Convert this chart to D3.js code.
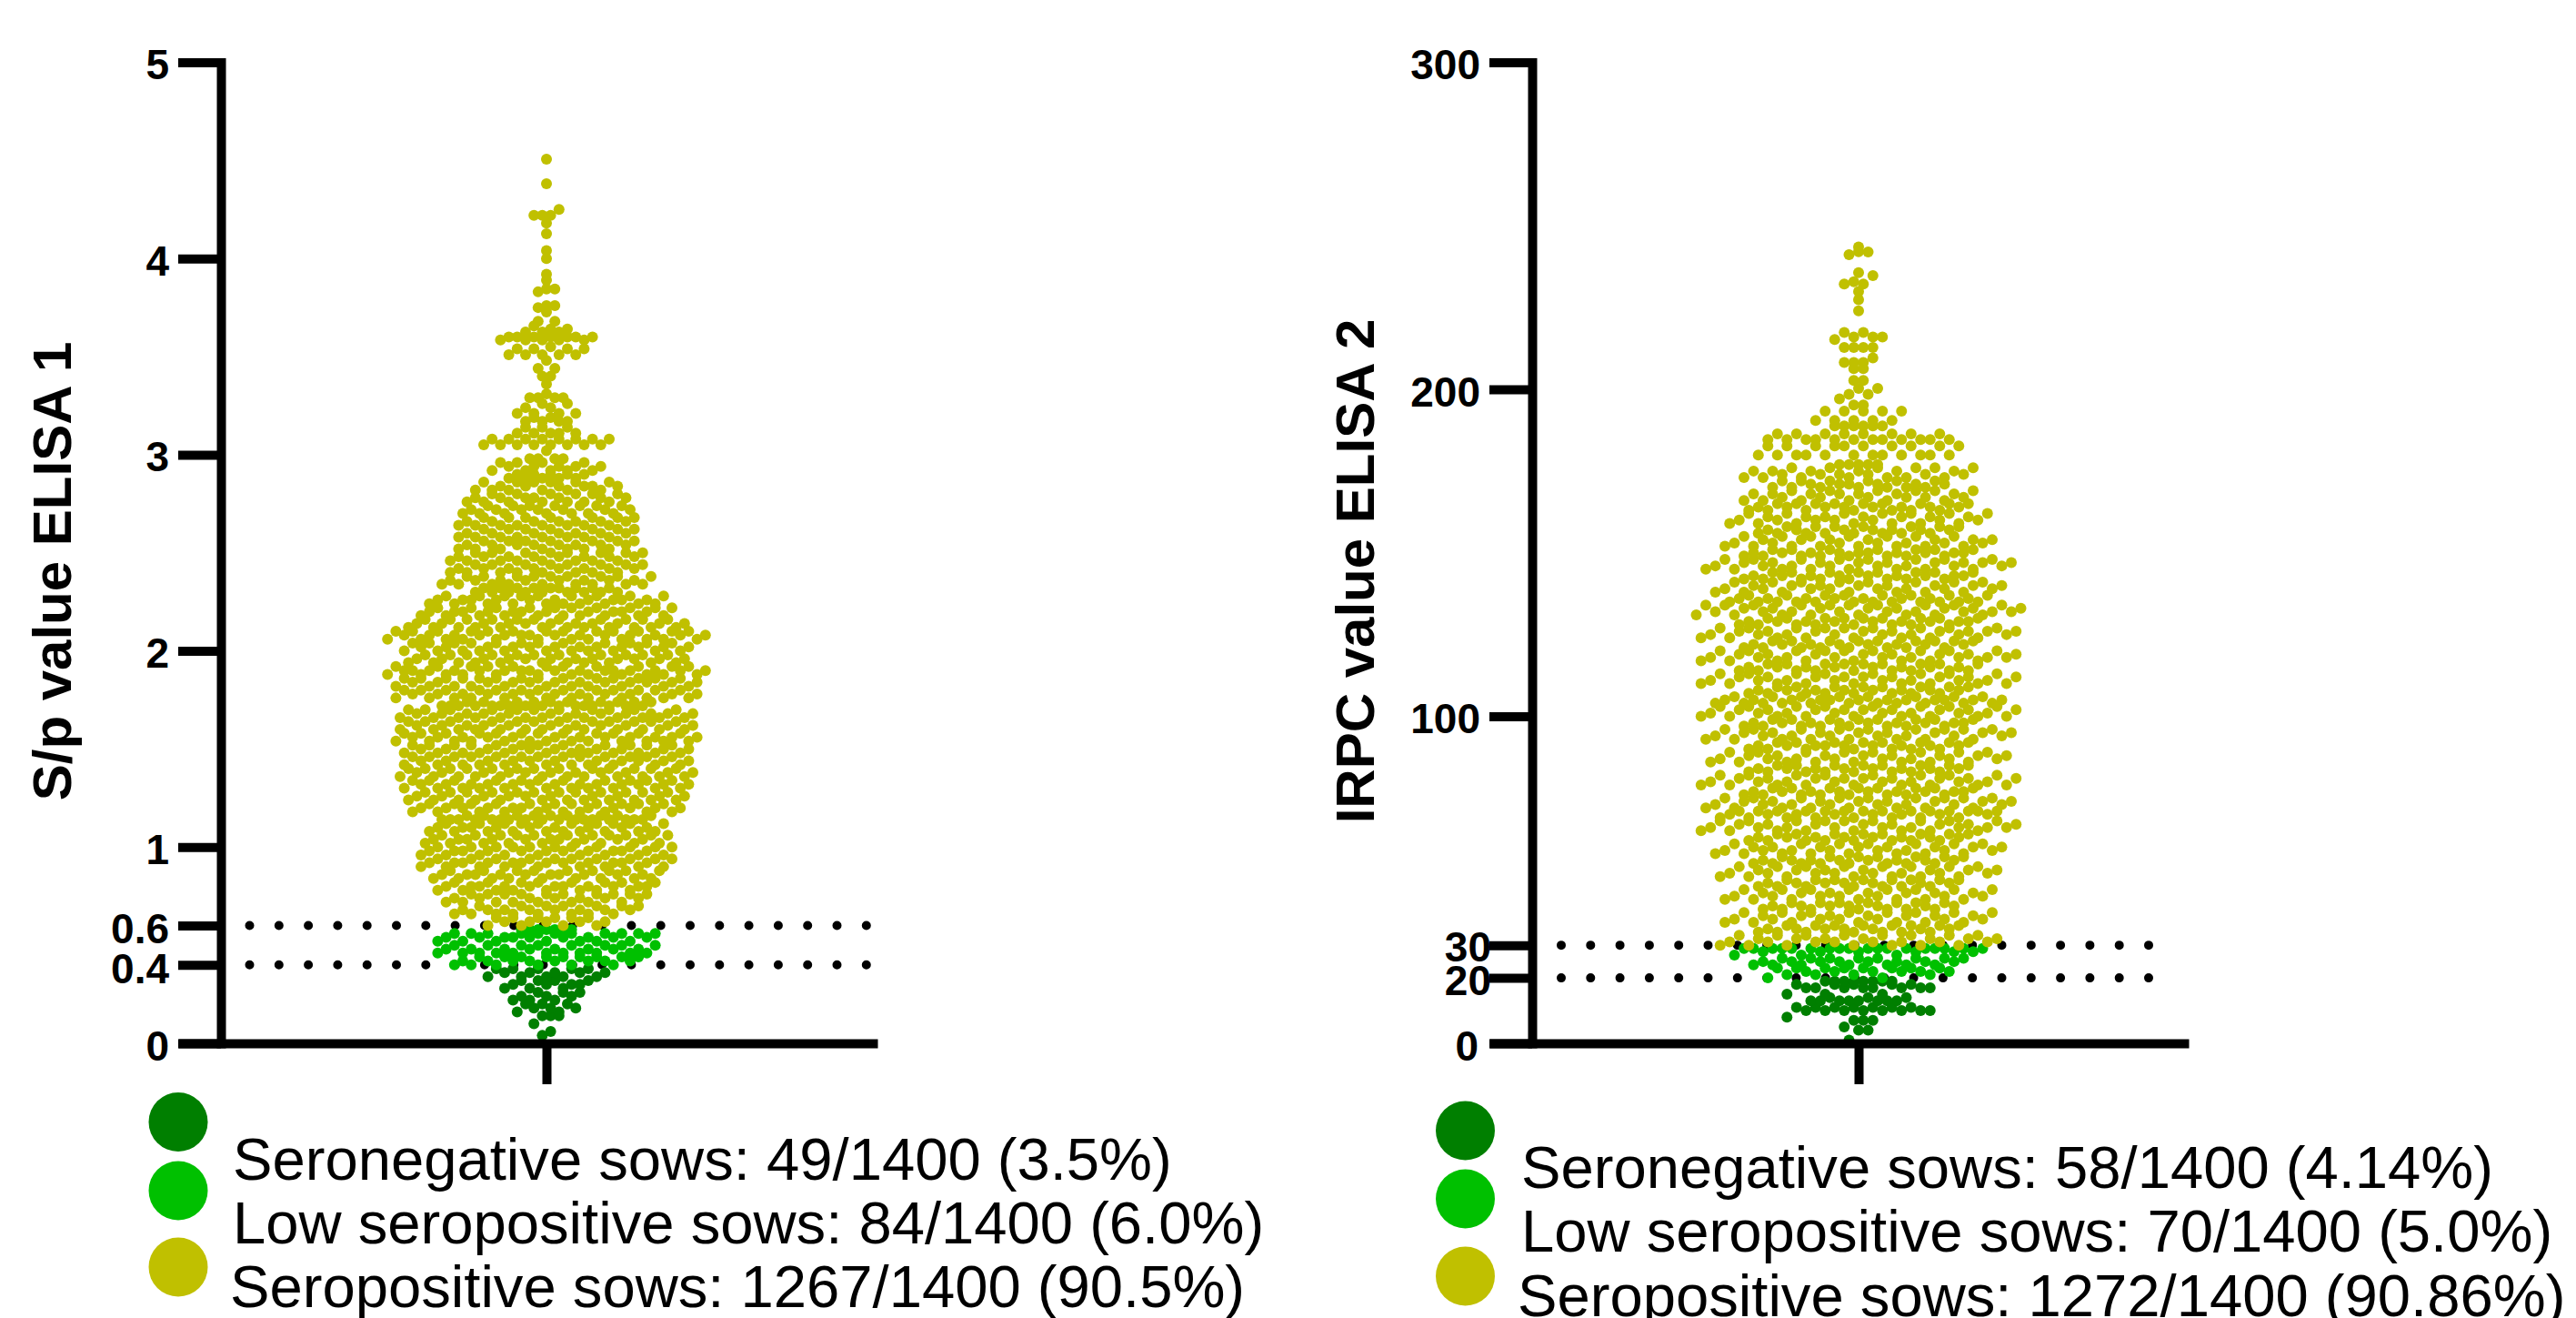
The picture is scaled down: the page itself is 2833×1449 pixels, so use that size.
<!DOCTYPE html>
<html>
<head>
<meta charset="utf-8">
<script src="https://cdn.jsdelivr.net/npm/d3@7"></script>
<style>
html, body { margin: 0; padding: 0; background: #fff; overflow: hidden; }
text { font-family: "Liberation Sans", Arial, sans-serif; fill: #000; }
</style>
</head>
<body>
<script>
const colors = ["#007f00", "#00c000", "#c0c000"];

// ELISA 1: how many sows sit at each level
const e1NegStart = 0.04, e1LowStart = 0.40, e1PosStart = 0.60, e1Step = 0.02;
const e1NegCounts = [1,1,0,1,0,3,2,3,3,3,3,3,3,4,4,5,5,5];
const e1LowCounts = [6,8,9,11,8,8,7,9,11,7];
const e1PosCounts = [
    4,5,6,8,8, 7,8,7,10,8, 11,8,9,10,9, 9,12,10,9,11, 11,9,10,11,10,
    9,10,17,9,10, 12,11,12,10,12, 11,13,11,12,11, 13,11,11,13,12, 11,12,13,12,12,
    13,11,12,13,12, 11,16,10,12,12, 13,11,12,14,12, 16,11,11,12,11, 11,12,12,12,14,
    13,12,11,11,10, 11,10,10,10,9, 9,9,9,8,9, 8,8,8,8,8, 8,7,8,7,8,
    7,7,8,7,7, 7,7,7,7,7, 6,6,6,6,5, 5,5,5,4,4, 0,1,0
];
// the sparse top of the swarm, one entry per dot
const e1PosTail = [
    3.05,3.05,3.05,3.05,3.05,3.05,3.05,3.05, 3.08,3.08,3.08,3.08,3.08,3.08,3.08,3.08,
    3.11,3.11,3.11,3.11,3.11, 3.14,3.14,3.14, 3.17,3.17,3.17,3.17, 3.19,3.19,
    3.21,3.21,3.21,3.21, 3.24,3.24, 3.26,3.26, 3.29,3.29,3.29,3.29, 3.31, 3.36,
    3.40,3.40, 3.44,3.44, 3.48, 3.51,3.51,3.51,3.51,3.51, 3.54,3.54,3.54,3.54, 3.55,
    3.585,3.585,3.585,3.585,3.585, 3.60,3.60,3.60,3.60,3.60,3.60,3.60,
    3.625,3.625,3.625, 3.64,3.64, 3.657, 3.68,3.68, 3.727, 3.75, 3.76,3.76,
    3.83, 3.845,3.845, 3.89, 3.92, 4.0, 4.04, 4.126, 4.18, 4.22,4.22,4.22, 4.25, 4.381, 4.506
];

// ELISA 2
const e2NegStart = 0, e2LowStart = 20, e2PosStart = 30, e2Step = 1;
const e2NegCounts = [0,1,0,0,2,1,0,3,1,0,8,7,0,8,3,3,0,8,5,8];
const e2LowCounts = [2,4,6,8,7,8,8,3,6,18];
const e2PosCounts = [
    7,8,7,8,7, 7,8,7,7,7, 8,7,7,7,7, 7,7,8,7,7, 8,7,8,7,8, 8,8,7,8,8,
    8,7,8,8,8, 8,9,8,9,8, 8,14,8,8,8, 9,8,9,8,9, 8,9,8,8,8, 8,8,8,8,8,
    7,9,8,8,8, 8,9,8,9,8, 9,8,9,8,11, 12,8,8,8,8, 9,8,9,8,9, 8,9,8,9,8,
    9,8,8,9,8, 8,9,9,8,9, 9,8,9,8,10, 12,8,8,7,8, 8,8,8,9,8, 8,8,9,8,8,
    10,7,8,7,7, 7,8,7,7,7, 7,7,7,7,8, 9,6,6,7,6, 7,6,6,7,6, 6,6,5
];
const e2PosTail = [
    179.9,179.9,179.9,179.9,179.9,179.9,179.9,179.9,179.9,179.9,179.9,179.9,
    182.7,182.7,182.7,182.7,182.7,182.7,182.7,182.7,182.7,182.7,
    184.6,184.6,184.6,184.6,184.6,184.6,184.6,184.6,184.6,184.6,184.6,184.6,
    186.4,186.4,186.4,186.4,186.4,186.4,186.4,186.4,
    188.8,188.8,188.8,188.8,188.8,188.8, 190.5,190.5,190.5,190.5,190.5,
    193.3,193.3,193.3,193.3,193.3, 195.2,195.2, 197.1, 198.5,198.5, 200.3,200.3,
    202.7,202.7, 206.3,206.3, 208.2,208.2,208.2, 209.6, 212.8,212.8,212.8,212.8,
    215.2, 216,216,216, 217.4,217.4, 224, 227.4, 229.9, 232.2,232.2, 232.9,
    234.8, 235.7, 241.2, 242.1, 242, 243.5
];

const e1Ticks = [0, 0.4, 0.6, 1, 2, 3, 4, 5];
const e2Ticks = [0, 20, 30, 100, 200, 300];
const e1Cutoffs = [0.4, 0.6];
const e2Cutoffs = [20, 30];
const e1Legend = ["Seronegative sows: 49/1400 (3.5%)", "Low seropositive sows: 84/1400 (6.0%)", "Seropositive sows: 1267/1400 (90.5%)"];
const e2Legend = ["Seronegative sows: 58/1400 (4.14%)", "Low seropositive sows: 70/1400 (5.0%)", "Seropositive sows: 1272/1400 (90.86%)"];

const svg = d3.select("body").append("svg").attr("width", 2833).attr("height", 1449);

function expand(start, step, counts, group) {
    var out = [];
    counts.forEach(function (n, i) {
        for (var k = 0; k < n; k++) out.push({ v: start + i * step, group: group });
    });
    return out;
}

// same idea as the prism scatter: bin by height, lay each bin out symmetric about the middle
function swarm(points, y, cx, slot) {
    var binPx = 12.5;
    d3.groups(points, d => d.group).forEach(function (grp) {
        var base = d3.max(grp[1], d => y(d.v));
        d3.groups(grp[1], d => Math.floor((base - y(d.v)) / binPx)).forEach(function (bin) {
            // walk the bin by a fixed stride so heights do not line up in arcs
            var sorted = bin[1].sort((a, b) => a.v - b.v);
            var n = sorted.length;
            var order = d3.range(n).sort((a, b) => ((a * 0.618034) % 1) - ((b * 0.618034) % 1));
            order.forEach(function (j, i) {
                sorted[j].px = cx + (i - (n - 1) / 2) * slot;
                sorted[j].py = y(sorted[j].v);
            });
        });
    });
    return points;
}

function drawPanel(cfg) {
    var g = svg.append("g");
    var y = d3.scaleLinear().domain(cfg.domain).range([1147, 68.5]);
    var x = d3.scalePoint().domain([cfg.category]).range([cfg.left, cfg.right])
        .align((cfg.cx - cfg.left) / (cfg.right - cfg.left));

    // cutoff lines go under the dots
    g.selectAll("line.cutoff").data(cfg.cutoffs).enter().append("line")
        .attr("class", "cutoff")
        .attr("x1", cfg.dotStart).attr("x2", cfg.dotEnd)
        .attr("y1", d => y(d)).attr("y2", d => y(d))
        .attr("stroke", "#000").attr("stroke-width", 10)
        .attr("stroke-linecap", "round").attr("stroke-dasharray", "0 32.3");

    var points = swarm(cfg.points, y, x(cfg.category), cfg.slot);
    g.selectAll("circle.dot").data(points).enter().append("circle")
        .attr("class", "dot")
        .attr("cx", d => d.px).attr("cy", d => d.py).attr("r", 6)
        .attr("fill", d => colors[d.group]);

    var yAxis = d3.axisLeft(y).tickValues(cfg.ticks).tickSize(cfg.axisX - cfg.left).tickSizeOuter(0).tickFormat(d3.format("~g"));
    var ya = g.append("g").attr("transform", "translate(" + cfg.axisX + ",0)").call(yAxis);
    ya.select(".domain").attr("stroke", "#000").attr("stroke-width", 10).attr("stroke-linecap", "square");
    ya.selectAll(".tick line").attr("stroke", "#000").attr("stroke-width", 10);
    ya.selectAll(".tick text")
        .attr("x", d => (cfg.labelEnd[d] || cfg.labelEndDefault) - cfg.axisX)
        .attr("dy", null)
        .attr("y", d => (cfg.labelY[d] !== undefined ? cfg.labelY[d] : 2))
        .attr("dominant-baseline", "central")
        .style("font-family", '"Liberation Sans", Arial, sans-serif')
        .style("font-size", "46px").style("font-weight", "bold");

    var xAxis = d3.axisBottom(x).tickSize(45).tickSizeOuter(0).tickFormat("");
    var xa = g.append("g").attr("transform", "translate(0,1147)").call(xAxis);
    xa.select(".domain").attr("stroke", "#000").attr("stroke-width", 10);
    xa.selectAll(".tick line").attr("stroke", "#000").attr("stroke-width", 10);

    g.append("text").attr("transform", "translate(" + cfg.titleX + ",628) rotate(-90)")
        .attr("text-anchor", "middle")
        .style("font-size", "60px").style("font-weight", "bold").text(cfg.title);

    g.selectAll("circle.key").data(cfg.keyY).enter().append("circle")
        .attr("class", "key").attr("cx", cfg.keyX).attr("cy", d => d).attr("r", 32.5)
        .attr("fill", (d, i) => colors[i]);
    g.selectAll("text.legend").data(cfg.legend).enter().append("text")
        .attr("class", "legend")
        .attr("x", (d, i) => cfg.textX[i]).attr("y", (d, i) => cfg.textY[i])
        .style("font-size", "65.2px").text(d => d);
}

drawPanel({
    category: "ELISA 1", domain: [0, 5], ticks: e1Ticks, cutoffs: e1Cutoffs,
    points: expand(e1NegStart, e1Step, e1NegCounts, 0)
        .concat(expand(e1LowStart, e1Step, e1LowCounts, 1))
        .concat(expand(e1PosStart, e1Step, e1PosCounts, 2))
        .concat(e1PosTail.map(v => ({ v: v, group: 2 }))),
    slot: 9.2, left: 196, right: 965, cx: 601, axisX: 243,
    dotStart: 274.5, dotEnd: 960,
    labelEnd: {}, labelEndDefault: 186, labelY: { 0.6: 3, 0.4: 4 },
    title: "S/p value ELISA 1", titleX: 78,
    keyX: 196, keyY: [1233.5, 1309, 1393],
    legend: e1Legend, textX: [256, 256, 253], textY: [1297, 1367, 1437]
});

drawPanel({
    category: "ELISA 2", domain: [0, 300], ticks: e2Ticks, cutoffs: e2Cutoffs,
    points: expand(e2NegStart, e2Step, e2NegCounts, 0)
        .concat(expand(e2LowStart, e2Step, e2LowCounts, 1))
        .concat(expand(e2PosStart, e2Step, e2PosCounts, 2))
        .concat(e2PosTail.map(v => ({ v: v, group: 2 }))),
    slot: 10.5, left: 1638, right: 2407, cx: 2044, axisX: 1685,
    dotStart: 1717, dotEnd: 2395,
    labelEnd: { 0: 1626, 20: 1640, 30: 1640 }, labelEndDefault: 1628, labelY: { 30: 1, 20: 2 },
    title: "IRPC value ELISA 2", titleX: 1511,
    keyX: 1611.5, keyY: [1243, 1318, 1403],
    legend: e2Legend, textX: [1673, 1673, 1669], textY: [1306, 1376, 1447]
});
</script>
</body>
</html>
